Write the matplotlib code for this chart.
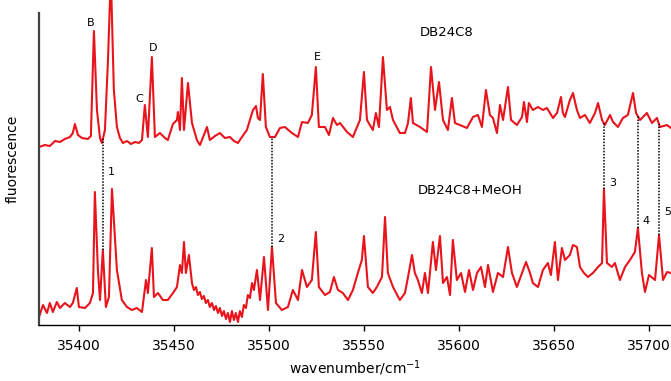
import numpy as np
import matplotlib
matplotlib.use('Agg')
import matplotlib.pyplot as plt

# upper spectrum: DB24C8 (wavenumber [cm-1], intensity [arb.])
top_wn = [35379.0, 35382.1, 35384.7, 35387.4, 35390.0, 35392.6, 35395.3, 35396.8, 35397.9, 35399.5,
          35401.6, 35404.7, 35406.3, 35407.9, 35409.5, 35411.1, 35412.1, 35413.7, 35415.3, 35416.8,
          35418.4, 35420.0, 35421.6, 35423.2, 35425.3, 35427.4, 35429.5, 35431.6, 35433.2, 35434.7,
          35436.3, 35438.4, 35440.0, 35442.6, 35445.3, 35446.8, 35449.5, 35451.6, 35452.1, 35453.2,
          35454.2, 35455.3, 35457.4, 35459.5, 35462.1, 35463.7, 35465.8, 35467.4, 35468.9, 35471.6,
          35474.2, 35476.8, 35479.5, 35481.6, 35483.7, 35485.8, 35488.4, 35491.6, 35493.2, 35494.2,
          35495.3, 35496.8, 35498.4, 35500.5, 35503.2, 35505.8, 35508.4, 35512.1, 35515.3, 35517.4,
          35520.5, 35522.6, 35524.7, 35526.3, 35529.5, 35531.6, 35533.7, 35535.8, 35537.4, 35541.1,
          35544.2, 35547.9, 35550.0, 35551.6, 35554.7, 35556.3, 35557.9, 35560.0, 35562.1, 35563.7,
          35565.3, 35568.9, 35571.6, 35573.2, 35574.7, 35575.8, 35579.5, 35583.2, 35585.3, 35587.4,
          35589.5, 35591.6, 35594.2, 35596.3, 35597.9, 35600.5, 35604.2, 35607.4, 35610.0, 35612.1,
          35614.2, 35616.3, 35617.9, 35620.0, 35621.6, 35623.2, 35625.8, 35627.4, 35630.5, 35633.2,
          35634.2, 35635.8, 35636.8, 35638.9, 35641.6, 35644.2, 35646.3, 35649.5, 35651.6, 35653.7,
          35654.7, 35655.8, 35658.4, 35660.0, 35662.1, 35663.7, 35666.3, 35668.9, 35671.6, 35673.2,
          35675.3, 35676.8, 35679.5, 35681.1, 35683.7, 35686.3, 35688.9, 35691.6, 35693.2, 35695.3,
          35698.9, 35701.6, 35704.2, 35705.8, 35709.5, 35711.6]
top_int = [18, 20, 19, 24, 23, 26, 28, 32, 41, 30,
           27, 26, 29, 134, 55, 27, 22, 35, 105, 190,
           75, 38, 27, 22, 24, 21, 23, 22, 25, 60,
           28, 108, 28, 32, 27, 25, 41, 45, 53, 35,
           87, 35, 82, 42, 25, 20, 30, 38, 25, 29,
           32, 27, 28, 24, 22, 28, 35, 55, 59, 47,
           45, 91, 38, 28, 28, 37, 38, 32, 28, 43,
           42, 50, 98, 38, 38, 30, 47, 40, 42, 33,
           28, 45, 93, 45, 35, 52, 38, 108, 55, 58,
           45, 32, 32, 42, 67, 42, 38, 33, 98, 55,
           83, 45, 35, 67, 42, 40, 37, 48, 50, 38,
           75, 50, 47, 32, 60, 45, 78, 45, 40, 48,
           63, 43, 62, 55, 58, 55, 57, 47, 52, 68,
           52, 48, 65, 72, 55, 47, 50, 42, 52, 62,
           45, 40, 50, 43, 38, 47, 50, 72, 52, 45,
           52, 42, 47, 38, 40, 37]

# lower spectrum: DB24C8+MeOH
bot_wn = [35379.0, 35381.1, 35383.2, 35384.7, 35386.3, 35388.4, 35390.0, 35392.6, 35395.3, 35396.8,
          35398.9, 35400.0, 35403.2, 35405.8, 35407.4, 35408.4, 35410.0, 35411.1, 35412.6, 35414.2,
          35415.8, 35417.4, 35420.0, 35422.6, 35425.3, 35427.9, 35430.5, 35433.2, 35435.3, 35436.3,
          35438.4, 35439.5, 35441.6, 35444.2, 35446.8, 35449.5, 35451.6, 35453.2, 35454.2, 35455.3,
          35456.3, 35457.9, 35459.5, 35460.5, 35461.6, 35462.6, 35463.7, 35464.7, 35465.8, 35466.8,
          35467.9, 35468.9, 35470.0, 35471.1, 35472.1, 35473.2, 35474.2, 35475.3, 35476.3, 35477.4,
          35478.4, 35479.5, 35480.5, 35481.6, 35482.6, 35483.7, 35484.7, 35485.8, 35486.8, 35487.9,
          35488.9, 35490.0, 35491.1, 35492.1, 35493.7, 35495.3, 35497.4, 35499.5, 35501.6, 35503.7,
          35506.8, 35510.0, 35512.6, 35515.3, 35517.4, 35520.0, 35522.6, 35524.7, 35526.3,
          35529.5, 35532.1, 35534.2, 35536.3, 35538.9, 35541.6, 35544.2, 35546.8, 35548.9, 35550.0,
          35552.1, 35554.7, 35556.8, 35559.5, 35561.1, 35562.6, 35565.3, 35568.9, 35571.6, 35573.2,
          35575.3, 35576.8, 35578.4, 35580.5, 35582.1, 35583.7, 35586.3, 35587.9, 35590.0, 35591.6,
          35593.7, 35595.3, 35596.8, 35598.9, 35601.1, 35603.2, 35605.3, 35607.4, 35609.5, 35611.6,
          35613.7, 35615.3, 35617.9, 35620.5, 35623.2, 35625.8, 35627.9, 35630.5, 35633.2, 35635.3,
          35637.4, 35638.9, 35641.6, 35644.2, 35646.8, 35648.4, 35650.5, 35652.1, 35654.2, 35655.8,
          35658.4, 35660.0, 35662.1, 35663.7, 35665.8, 35667.9, 35670.5, 35673.2, 35675.3, 35676.3,
          35677.9, 35680.5, 35682.1, 35684.7, 35687.4, 35690.0, 35692.6, 35694.2, 35696.3, 35697.9,
          35700.0, 35703.2, 35705.3, 35707.4, 35709.5, 35711.6]
bot_int = [8, 20, 12, 22, 13, 23, 17, 22, 18, 22,
           37, 18, 17, 22, 32, 133, 55, 25, 75, 18,
           28, 136, 55, 25, 18, 15, 17, 13, 45, 32,
           77, 28, 32, 25, 25, 32, 38, 60, 52, 83,
           52, 70, 42, 35, 38, 30, 33, 26, 29, 22,
           25, 18, 22, 15, 19, 12, 17, 9, 14, 6,
           12, 3, 14, 5, 12, 3, 14, 8, 20, 17,
           30, 27, 42, 35, 55, 25, 68, 15, 78, 22,
           15, 18, 35, 25, 55, 38, 45, 93, 38,
           30, 33, 48, 35, 32, 25, 35, 52, 65, 89,
           38, 32, 38, 48, 108, 52, 38, 25, 32, 48,
           70, 52, 45, 32, 52, 32, 83, 55, 89, 42,
           48, 30, 85, 45, 52, 33, 55, 35, 52, 58,
           38, 60, 33, 52, 48, 78, 52, 38, 52, 63,
           52, 42, 38, 55, 62, 50, 83, 45, 77, 65,
           70, 80, 78, 58, 52, 48, 52, 58, 62, 136,
           62, 58, 62, 45, 58, 65, 73, 97, 52, 33,
           50, 45, 90, 45, 53, 52]

top_offset = 160

peak_names = ['B', 'C', 'D', 'E']
peak_wn = [35406.3, 35431.6, 35439.0, 35525.3]
peak_y = [302, 226, 277, 268]

shift_names = ['1', '2', '3', '4', '5']
shift_wn = [35412.6, 35501.6, 35676.3, 35694.2, 35705.3]
shift_label_y = [153, 86, 142, 104, 113]

red = '#e8141c'

fig = plt.figure(figsize=(6.71, 3.81), dpi=100)
ax = fig.add_axes([39/671, 56/381, 1 - 39/671, 1 - 56/381])

ax.plot(top_wn, np.array(top_int) + top_offset, c=red, lw=1.5)
ax.plot(bot_wn, bot_int, c=red, lw=1.5)

# dotted lines joining the two traces
for name, w, ly in zip(shift_names, shift_wn, shift_label_y):
    y_hi = np.interp(w, top_wn, top_int) + top_offset
    y_lo = np.interp(w, bot_wn, bot_int)
    ax.plot([w, w], [y_lo, y_hi], ls=(0, (1, 1)), c='k', lw=1.1)
    ax.text(w + 4.5, ly, name, fontsize=8, ha='center', va='center')

for name, w, y in zip(peak_names, peak_wn, peak_y):
    ax.text(w, y, name, fontsize=8, ha='center', va='center')

ax.text(35593.7, 293, 'DB24C8', fontsize=9.5, ha='center', va='center')
ax.text(35605.8, 134, 'DB24C8+MeOH', fontsize=9.5, ha='center', va='center')

ax.set_xlim(35379, 35711.6)
ax.set_ylim(0, 325)
ax.set_xticks(np.arange(35400, 35701, 50))
ax.set_yticks([])
ax.tick_params(axis='x', direction='out', length=4, width=1, labelsize=10, pad=6)
ax.spines['top'].set_visible(False)
ax.spines['right'].set_visible(False)
ax.spines['left'].set_bounds(0, 312)
ax.spines['left'].set_color('#444444')
ax.spines['left'].set_linewidth(1.6)
ax.spines['bottom'].set_linewidth(1.0)
ax.set_xlabel('wavenumber/cm$^{-1}$', fontsize=10, labelpad=4)
ax.set_ylabel('fluorescence', fontsize=10)
ax.yaxis.set_label_coords(-0.03, 0.51)

fig.savefig('out.png', dpi=100)
